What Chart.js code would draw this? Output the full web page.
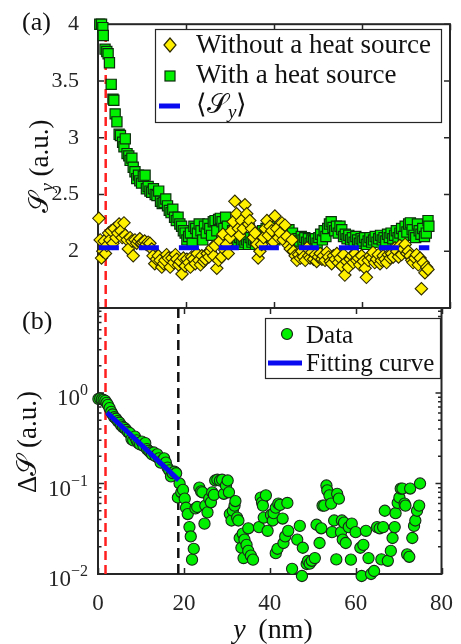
<!DOCTYPE html>
<html><head><meta charset="utf-8">
<script src="https://cdn.jsdelivr.net/npm/chart.js@4.4.1/dist/chart.umd.min.js"></script>
<style>
html,body{margin:0;padding:0;background:#fff;}
#wrap{position:relative;width:461px;height:644px;overflow:hidden;}
canvas{position:absolute;left:0;top:0;}
</style></head><body>
<div id="wrap"><canvas id="ca" width="461" height="644" style="width:461px;height:644px"></canvas><canvas id="cb" width="461" height="644" style="width:461px;height:644px"></canvas></div>
<script>
// ---------- data ----------
const xTicks = [0, 20, 40, 60, 80];
const yTicksA = [2, 2.5, 3, 3.5, 4];
const yTicksB = [0.01, 0.1, 1];
const yTickExpB = ['\u22122', '\u22121', '0'];
const meanSy = 2.03;
const meanSpan = [0.2, 75.3];
const redLineX = 1.75;
const blackLineX = 18.7;
const fitX = [2.1, 18.8];
const fitY = [0.61, 0.109];

const withHeatSource = [[0.4,4.00],[0.8,4.00],[1.1,3.97],[1.2,3.90],[1.6,3.78],[2.0,3.76],[2.3,3.74],[2.6,3.66],[3.0,3.47],[3.4,3.34],[3.6,3.33],[3.9,3.21],[4.3,3.14],[4.8,3.03],[5.1,3.02],[5.6,2.96],[5.9,2.92],[6.2,2.99],[6.6,2.86],[7.0,2.84],[7.3,2.80],[7.7,2.82],[8.0,2.74],[8.4,2.70],[8.8,2.64],[9.2,2.67],[9.5,2.62],[9.9,2.60],[10.3,2.66],[10.7,2.67],[11.0,2.55],[11.4,2.57],[11.8,2.53],[12.2,2.52],[12.6,2.55],[13.0,2.50],[13.4,2.49],[13.8,2.53],[14.2,2.44],[14.6,2.42],[15.0,2.43],[15.4,2.46],[15.8,2.40],[16.2,2.36],[16.6,2.34],[17.0,2.37],[17.4,2.30],[17.8,2.27],[18.2,2.30],[18.6,2.24],[19.0,2.22],[19.4,2.18],[19.8,2.16],[20.2,2.10],[20.6,2.13],[21.0,2.16],[21.4,2.07],[21.8,2.22],[22.2,2.20],[22.6,2.16],[23.0,2.24],[23.4,2.18],[23.8,2.10],[24.2,2.22],[24.6,2.16],[25.0,2.24],[25.4,2.20],[25.8,2.14],[26.2,2.26],[26.6,2.27],[27.0,2.18],[27.4,2.28],[27.8,2.29],[28.2,2.26],[28.6,2.20],[29.0,2.30],[29.4,2.22],[29.8,2.14],[30.2,2.12],[30.6,2.18],[31.0,2.12],[31.4,2.16],[31.8,2.08],[32.2,2.12],[32.6,2.06],[33.0,2.10],[33.4,2.08],[33.8,2.10],[34.2,2.06],[34.6,2.12],[35.0,2.08],[35.4,2.10],[35.8,2.06],[36.2,2.09],[36.6,2.12],[37.0,2.14],[37.4,2.18],[37.8,2.13],[38.2,2.20],[38.6,2.16],[39.0,2.22],[39.4,2.12],[39.8,2.17],[40.2,2.10],[40.6,2.15],[41.0,2.19],[41.4,2.12],[41.8,2.16],[42.2,2.19],[42.6,2.13],[43.0,2.18],[43.4,2.19],[43.8,2.14],[44.2,2.16],[44.6,2.10],[45.0,2.08],[45.4,2.11],[45.8,2.09],[46.2,2.13],[46.6,2.10],[47.0,2.12],[47.4,2.08],[47.8,2.11],[48.2,2.07],[48.6,2.10],[49.0,2.09],[49.4,2.11],[49.8,2.07],[50.2,2.12],[50.6,2.15],[51.0,2.10],[51.4,2.18],[51.8,2.13],[52.2,2.20],[52.6,2.24],[53.0,2.26],[53.4,2.21],[53.8,2.18],[54.2,2.22],[54.6,2.16],[55.0,2.22],[55.4,2.19],[55.8,2.13],[56.2,2.15],[56.6,2.11],[57.0,2.14],[57.4,2.10],[57.8,2.12],[58.2,2.08],[58.6,2.13],[59.0,2.10],[59.4,2.07],[59.8,2.11],[60.2,2.09],[60.6,2.12],[61.0,2.06],[61.4,2.09],[61.8,2.12],[62.2,2.08],[62.6,2.10],[63.0,2.13],[63.4,2.08],[63.8,2.11],[64.2,2.14],[64.6,2.10],[65.0,2.12],[65.4,2.09],[65.8,2.15],[66.2,2.12],[66.6,2.16],[67.0,2.11],[67.4,2.14],[67.8,2.18],[68.2,2.12],[68.6,2.16],[69.0,2.20],[69.4,2.13],[69.8,2.22],[70.2,2.17],[70.6,2.24],[71.0,2.25],[71.4,2.19],[71.8,2.14],[72.2,2.12],[72.6,2.24],[73.0,2.18],[73.4,2.15],[73.8,2.20],[74.2,2.13],[74.6,2.16],[75.0,2.27],[75.2,2.22]];

const withoutHeatSource = [[0.2,2.29],[0.5,2.10],[0.8,1.94],[1.1,2.00],[1.4,2.09],[1.7,1.98],[2.0,2.05],[2.4,2.16],[2.7,2.10],[3.0,2.18],[3.4,2.07],[3.7,2.20],[4.1,2.12],[4.5,2.16],[4.8,2.24],[5.2,2.18],[5.5,2.12],[5.9,2.25],[6.2,2.14],[6.6,2.10],[6.9,2.02],[7.3,2.12],[7.7,2.09],[8.0,1.96],[8.4,2.10],[8.8,2.07],[9.1,2.09],[9.5,2.11],[9.9,2.07],[10.2,2.08],[10.6,2.09],[11.0,2.06],[11.4,2.08],[11.8,2.07],[12.2,2.02],[12.5,1.96],[12.9,1.89],[13.3,1.93],[13.7,1.96],[14.1,1.92],[14.5,1.86],[14.9,1.89],[15.2,1.92],[15.6,1.97],[16.0,1.94],[16.4,1.86],[16.8,1.94],[17.2,1.90],[17.6,1.97],[17.9,1.93],[18.3,1.88],[18.7,1.91],[19.1,1.80],[19.4,1.94],[19.8,1.87],[20.2,1.93],[20.6,1.90],[21.0,1.86],[21.3,1.95],[21.7,1.93],[22.1,1.89],[22.5,1.98],[22.9,1.92],[23.3,1.88],[23.6,1.96],[24.0,1.91],[24.4,1.93],[24.8,1.98],[25.2,1.95],[25.5,2.00],[25.9,2.03],[26.3,1.96],[26.6,2.05],[27.0,1.85],[27.4,1.92],[27.7,2.09],[28.1,1.95],[28.4,2.15],[28.8,2.01],[29.2,2.06],[29.6,1.98],[30.0,2.12],[30.3,2.18],[30.7,2.26],[31.1,2.44],[31.5,2.33],[31.9,2.20],[32.2,2.14],[32.6,2.27],[33.0,2.20],[33.4,2.41],[33.8,2.33],[34.2,2.24],[34.5,2.27],[34.9,2.20],[35.3,2.12],[35.7,2.16],[36.1,2.06],[36.4,1.94],[36.8,2.00],[37.2,2.06],[37.6,2.12],[38.0,2.20],[38.4,2.27],[38.7,2.14],[39.1,2.22],[39.5,2.18],[39.9,2.08],[40.2,2.31],[40.6,2.20],[41.0,2.12],[41.4,2.16],[41.8,2.25],[42.1,2.10],[42.5,2.23],[42.9,2.13],[43.3,2.05],[43.7,2.02],[44.1,2.10],[44.4,2.00],[44.8,1.96],[45.2,1.92],[45.6,1.97],[46.0,1.94],[46.3,2.00],[46.7,1.95],[47.1,1.92],[47.5,2.03],[47.9,1.96],[48.2,1.94],[48.6,1.99],[49.0,1.93],[49.4,1.97],[49.7,1.91],[50.1,1.95],[50.5,1.98],[50.9,1.93],[51.2,1.96],[51.6,1.92],[52.0,1.99],[52.4,1.95],[52.8,1.91],[53.1,1.89],[53.5,1.96],[53.9,1.93],[54.3,1.98],[54.6,1.90],[55.0,1.94],[55.4,1.87],[55.8,1.97],[56.1,1.79],[56.5,1.91],[56.9,1.86],[57.3,1.93],[57.7,1.96],[58.0,1.90],[58.4,1.98],[58.8,1.92],[59.2,1.94],[59.5,1.88],[59.9,1.96],[60.3,1.91],[60.7,1.85],[61.0,1.77],[61.4,1.92],[61.8,1.96],[62.2,1.94],[62.5,1.99],[62.9,1.90],[63.3,1.93],[63.7,1.97],[64.1,1.89],[64.4,1.92],[64.8,1.96],[65.2,1.93],[65.6,1.90],[66.0,1.97],[66.4,1.94],[66.7,1.98],[67.1,1.95],[67.5,2.03],[67.9,2.00],[68.3,1.95],[68.6,2.05],[69.0,1.97],[69.4,2.02],[69.8,2.06],[70.2,1.98],[70.5,2.00],[70.9,1.96],[71.3,1.92],[71.6,1.90],[72.0,1.94],[72.4,1.97],[72.8,1.88],[73.2,1.94],[73.5,1.67],[73.9,1.90],[74.3,1.81],[74.7,1.86],[75.0,1.84]];

const deltaS = [[0.1,0.86],[0.5,0.87],[0.9,0.85],[1.3,0.84],[1.7,0.82],[2.0,0.78],[2.3,0.74],[2.7,0.68],[3.1,0.62],[3.4,0.58],[3.8,0.54],[4.2,0.52],[4.6,0.49],[5.0,0.47],[5.4,0.44],[5.8,0.42],[6.2,0.41],[6.6,0.39],[7.0,0.37],[7.4,0.36],[7.8,0.31],[8.2,0.30],[8.6,0.33],[9.0,0.30],[9.4,0.28],[9.8,0.27],[10.2,0.29],[10.6,0.26],[11.0,0.28],[11.4,0.24],[11.8,0.23],[12.2,0.22],[12.6,0.21],[13.0,0.22],[13.4,0.20],[13.8,0.21],[14.2,0.19],[14.6,0.17],[15.0,0.18],[15.4,0.19],[15.8,0.17],[16.2,0.15],[16.6,0.14],[17.0,0.12],[17.4,0.13],[17.8,0.135],[18.2,0.13],[18.6,0.07],[19.0,0.10],[19.4,0.08],[19.8,0.085],[20.2,0.068],[20.5,0.054],[20.9,0.046],[21.3,0.033],[21.6,0.026],[21.9,0.0144],[22.3,0.019],[22.7,0.053],[23.1,0.055],[23.6,0.09],[24.0,0.082],[24.3,0.08],[24.8,0.036],[25.0,0.057],[25.5,0.048],[25.9,0.068],[26.3,0.062],[26.6,0.08],[27.0,0.075],[27.3,0.108],[27.8,0.11],[28.4,0.108],[28.9,0.11],[29.3,0.077],[29.8,0.095],[30.2,0.108],[30.5,0.08],[30.7,0.046],[31.1,0.039],[31.4,0.05],[31.8,0.057],[32.0,0.064],[32.4,0.042],[32.7,0.039],[33.0,0.025],[33.4,0.0195],[33.7,0.028],[33.9,0.015],[34.1,0.024],[34.6,0.021],[35.0,0.018],[35.0,0.032],[35.6,0.016],[36.1,0.0144],[37.5,0.033],[37.9,0.07],[38.2,0.062],[38.4,0.057],[38.6,0.042],[39.1,0.074],[39.5,0.03],[40.3,0.045],[40.7,0.039],[40.9,0.047],[41.4,0.054],[41.4,0.017],[41.8,0.019],[42.0,0.06],[42.4,0.058],[43.0,0.041],[43.2,0.022],[43.6,0.026],[44.1,0.061],[44.3,0.03],[45.2,0.0114],[46.4,0.024],[47.0,0.034],[47.5,0.0095],[47.7,0.0195],[48.6,0.0129],[48.9,0.014],[49.3,0.013],[49.8,0.014],[50.5,0.015],[50.9,0.035],[51.6,0.022],[52.0,0.032],[52.3,0.057],[52.7,0.057],[53.2,0.095],[53.4,0.084],[53.9,0.074],[54.3,0.06],[54.5,0.029],[55.0,0.039],[55.5,0.0145],[55.7,0.077],[56.1,0.068],[56.6,0.029],[56.8,0.039],[57.0,0.024],[57.3,0.037],[57.7,0.022],[58.4,0.033],[58.9,0.0144],[59.1,0.036],[60.0,0.029],[61.1,0.0195],[61.4,0.0095],[61.8,0.021],[62.4,0.03],[63.0,0.015],[63.6,0.01],[64.3,0.0108],[65.0,0.033],[65.6,0.032],[66.0,0.0145],[66.4,0.033],[66.8,0.05],[67.5,0.014],[68.2,0.018],[68.6,0.025],[69.1,0.033],[69.3,0.047],[69.8,0.061],[70.2,0.07],[70.5,0.088],[70.9,0.088],[71.4,0.06],[71.6,0.057],[72.0,0.0165],[72.5,0.0155],[72.7,0.088],[73.2,0.025],[73.6,0.034],[73.9,0.039],[74.3,0.05],[74.8,0.057],[75.0,0.1]];

// ---------- styles ----------
const FONT = '"Liberation Serif", "Times New Roman", serif';
const INK = '#262626';
const GREEN = '#00f000', GREEN_EDGE = '#0d2e0d';
const YELLOW = '#fff000', YELLOW_EDGE = '#2e2a00';
const BLUE = '#0a0af0';
const RED = '#ff1f1f';
const f = (size, style) => (style ? style + ' ' : '') + size + 'px ' + FONT;
const toPts = arr => arr.map(([x, y]) => ({x, y}));

function rich(ctx, parts, x, y, align) {
  ctx.textAlign = 'left';
  let w = 0;
  for (const p of parts) { ctx.font = p[1]; w += ctx.measureText(p[0]).width; }
  let cx = align === 'center' ? x - w / 2 : (align === 'right' ? x - w : x);
  for (const p of parts) { ctx.font = p[1]; ctx.fillText(p[0], cx, y + (p[2] || 0)); cx += ctx.measureText(p[0]).width; }
}

function framePlugin(cfg) {
  return {
    id: 'frame',
    beforeDatasetsDraw(chart) {
      const {ctx, chartArea: a, scales: {x, y}} = chart;
      ctx.save();
      ctx.strokeStyle = INK;
      ctx.lineWidth = 1.5;
      ctx.beginPath();
      for (const v of cfg.xMajor) {
        const p = Math.round(x.getPixelForValue(v)) + 0.5;
        ctx.moveTo(p, a.bottom); ctx.lineTo(p, a.bottom - 6);
        ctx.moveTo(p, a.top); ctx.lineTo(p, a.top + 6);
      }
      for (const v of cfg.yMajor) {
        const p = y.getPixelForValue(v);
        ctx.moveTo(a.left, p); ctx.lineTo(a.left + 6, p);
        ctx.moveTo(a.right, p); ctx.lineTo(a.right - 6, p);
      }
      for (const v of (cfg.yMinor || [])) {
        const p = y.getPixelForValue(v);
        ctx.moveTo(a.left, p); ctx.lineTo(a.left + 3.5, p);
        ctx.moveTo(a.right, p); ctx.lineTo(a.right - 3.5, p);
      }
      ctx.stroke();
      ctx.lineWidth = 2;
      ctx.strokeRect(a.left, a.top, a.right - a.left, a.bottom - a.top);
      ctx.restore();
    }
  };
}

const legendA = {
  id: 'legendA',
  afterDraw(chart) {
    const ctx = chart.ctx;
    ctx.save();
    ctx.fillStyle = '#fff';
    ctx.fillRect(155, 29, 286, 93);
    ctx.strokeStyle = INK; ctx.lineWidth = 1.2;
    ctx.strokeRect(155.5, 29.5, 286, 93);
    ctx.beginPath();
    ctx.moveTo(170 - 6, 45); ctx.lineTo(170, 45 - 7); ctx.lineTo(170 + 6, 45); ctx.lineTo(170, 45 + 7); ctx.closePath();
    ctx.fillStyle = YELLOW; ctx.fill(); ctx.strokeStyle = YELLOW_EDGE; ctx.lineWidth = 1.2; ctx.stroke();
    ctx.fillStyle = GREEN; ctx.fillRect(165, 71, 10, 10); ctx.strokeStyle = GREEN_EDGE; ctx.strokeRect(165, 71, 10, 10);
    ctx.strokeStyle = BLUE; ctx.lineWidth = 5; ctx.beginPath(); ctx.moveTo(159, 106); ctx.lineTo(180, 106); ctx.stroke();
    ctx.fillStyle = '#111';
    ctx.textBaseline = 'alphabetic';
    rich(ctx, [['Without a heat source', f(27)]], 196, 53, 'left');
    rich(ctx, [['With a heat source', f(27)]], 196, 83, 'left');
    rich(ctx, [['\u27E8', f(27)], ['\uD835\uDCAE', f(27)], ['y', f(19, 'italic'), 5], ['\u27E9', f(27)]], 196, 113, 'left');
    ctx.restore();
  }
};

const legendB = {
  id: 'legendB',
  afterDraw(chart) {
    const ctx = chart.ctx;
    ctx.save();
    ctx.fillStyle = '#fff';
    ctx.fillRect(265, 318, 175, 60);
    ctx.strokeStyle = INK; ctx.lineWidth = 1.2;
    ctx.strokeRect(265.5, 318.5, 175, 60);
    ctx.beginPath(); ctx.arc(287, 334, 5.5, 0, Math.PI * 2);
    ctx.fillStyle = GREEN; ctx.fill(); ctx.strokeStyle = '#1a261a'; ctx.lineWidth = 1.2; ctx.stroke();
    ctx.strokeStyle = BLUE; ctx.lineWidth = 5; ctx.beginPath(); ctx.moveTo(268, 363); ctx.lineTo(302, 363); ctx.stroke();
    ctx.fillStyle = '#111';
    ctx.textBaseline = 'alphabetic';
    rich(ctx, [['Data', f(25)]], 306, 343, 'left');
    rich(ctx, [['Fitting curve', f(25)]], 306, 371, 'left');
    ctx.restore();
  }
};

const titles = {
  id: 'titles',
  afterDraw(chart) {
    const ctx = chart.ctx;
    ctx.save();
    ctx.fillStyle = '#111';
    ctx.textBaseline = 'alphabetic';
    rich(ctx, [['(a)', f(26)]], 22, 30, 'left');
    rich(ctx, [['(b)', f(26)]], 22, 329, 'left');
    rich(ctx, [['y', f(28, 'italic')], ['\u2009 (nm)', f(28)]], 273, 638, 'center');
    ctx.save(); ctx.translate(48, 166); ctx.rotate(-Math.PI / 2);
    rich(ctx, [['\uD835\uDCAE', f(27)], ['y', f(19, 'italic'), 5], [' (a.u.)', f(27)]], 0, 0, 'center');
    ctx.restore();
    ctx.save(); ctx.translate(36, 442); ctx.rotate(-Math.PI / 2);
    rich(ctx, [['\u0394', f(27)], ['\uD835\uDCAE', f(27)], [' (a.u.)', f(27)]], 0, 0, 'center');
    ctx.restore();
    // log tick labels 10^n
    const ys = chart.scales.y;
    ctx.fillStyle = INK;
    yTicksB.forEach((v, i) => {
      const p = ys.getPixelForValue(v);
      rich(ctx, [['10', f(23)], [yTickExpB[i], f(16), -10]], 88, p + 12, 'right');
    });
    ctx.restore();
  }
};

const tickFont = {family: FONT, size: 22};
const tickFontX = {family: FONT, size: 23};

new Chart(document.getElementById('ca'), {
  type: 'scatter',
  data: {
    datasets: [
      {type: 'line', label: 'mean', data: [{x: meanSpan[0], y: meanSy}, {x: meanSpan[1], y: meanSy}],
       borderColor: BLUE, borderWidth: 5, borderDash: [20, 20], pointRadius: 0, order: 0, clip: false},
      {label: 'Without a heat source', data: toPts(withoutHeatSource), pointStyle: 'rectRot', pointRadius: 6.2,
       backgroundColor: YELLOW, borderColor: YELLOW_EDGE, borderWidth: 1.1, order: 1, clip: false},
      {label: 'With a heat source', data: toPts(withHeatSource), pointStyle: 'rect', pointRadius: 7.2,
       backgroundColor: GREEN, borderColor: GREEN_EDGE, borderWidth: 1.2, order: 2, clip: false},
      {type: 'line', label: 'ref', data: [{x: redLineX, y: 1.5}, {x: redLineX, y: 4}],
       borderColor: RED, borderWidth: 2.5, borderDash: [9, 5], pointRadius: 0, order: 3, clip: false}
    ]
  },
  options: {
    responsive: false, animation: false, events: [],
    layout: {padding: {left: 0, top: 21, right: 11, bottom: 336}},
    scales: {
      x: {type: 'linear', min: 0, max: 80, display: false},
      y: {type: 'linear', min: 1.5, max: 4,
          afterBuildTicks: s => { s.ticks = yTicksA.map(v => ({value: v})); },
          afterFit: s => { s.width = 98; },
          grid: {display: false}, border: {display: false},
          ticks: {font: tickFont, color: INK, padding: 11, callback: v => String(v)}}
    },
    plugins: {legend: {display: false}, tooltip: {enabled: false}}
  },
  plugins: [framePlugin({xMajor: xTicks, yMajor: yTicksA}), legendA]
});

const minorB = [];
for (const d of [0.01, 0.1, 1]) for (let m = 2; m <= 9; m++) if (m * d <= 8.7) minorB.push(m * d);

new Chart(document.getElementById('cb'), {
  type: 'scatter',
  data: {
    datasets: [
      {type: 'line', label: 'Fitting curve', data: fitX.map((x, i) => ({x, y: fitY[i]})),
       borderColor: BLUE, borderWidth: 5, pointRadius: 0, order: 0, clip: false},
      {label: 'Data', data: toPts(deltaS), pointStyle: 'circle', pointRadius: 5.6,
       backgroundColor: GREEN, borderColor: '#1a261a', borderWidth: 1.1, order: 1, clip: false},
      {type: 'line', label: 'red', data: [{x: redLineX, y: 0.01}, {x: redLineX, y: 8.7}],
       borderColor: RED, borderWidth: 2.5, borderDash: [9, 5], pointRadius: 0, order: 2, clip: false},
      {type: 'line', label: 'black', data: [{x: blackLineX, y: 0.01}, {x: blackLineX, y: 8.7}],
       borderColor: '#111', borderWidth: 2.5, borderDash: [10, 6], pointRadius: 0, order: 3, clip: false}
    ]
  },
  options: {
    responsive: false, animation: false, events: [],
    layout: {padding: {left: 0, top: 308, right: 11, bottom: 0}},
    scales: {
      x: {type: 'linear', min: 0, max: 80,
          afterBuildTicks: s => { s.ticks = xTicks.map(v => ({value: v})); },
          afterFit: s => { s.height = 70; },
          grid: {display: false}, border: {display: false},
          ticks: {font: tickFontX, color: INK, padding: 8, maxRotation: 0, autoSkip: false, callback: v => String(v)}},
      y: {type: 'logarithmic', min: 0.01, max: 8.7,
          afterBuildTicks: s => { s.ticks = yTicksB.map(v => ({value: v})); },
          afterFit: s => { s.width = 98; },
          grid: {display: false}, border: {display: false},
          ticks: {display: false}}
    },
    plugins: {legend: {display: false}, tooltip: {enabled: false}}
  },
  plugins: [framePlugin({xMajor: xTicks, yMajor: yTicksB, yMinor: minorB}), legendB, titles]
});
</script>
</body></html>
